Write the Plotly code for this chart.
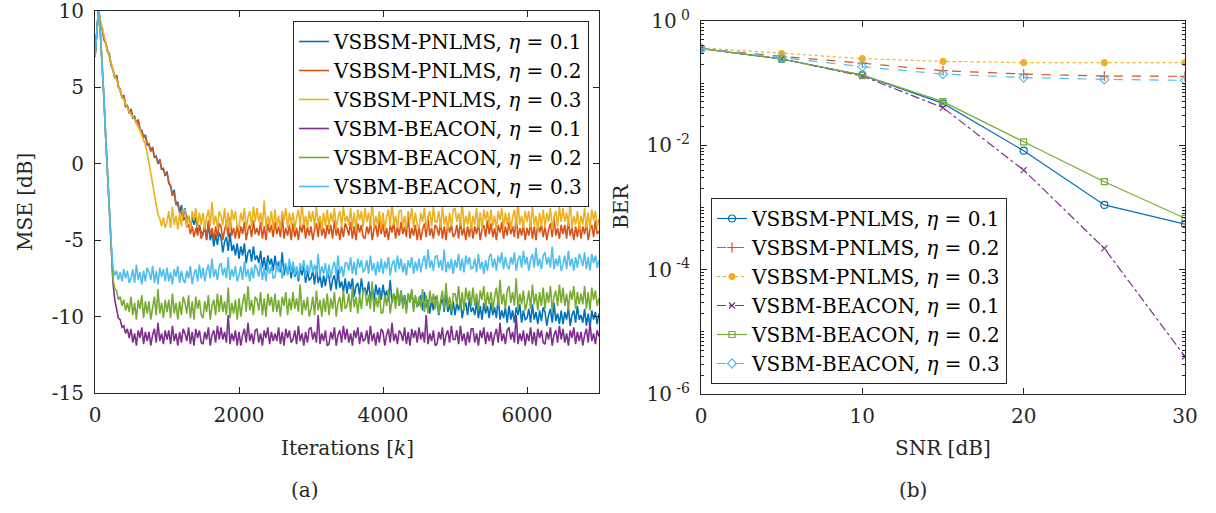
import plotly.graph_objects as go

# ---------------- data: (a) MSE [dB] vs iterations, sampled every 25 iterations (k = 0 ... 7000) ----------------
iter_step = 25

mse_vsbsm_pnlms_01 = [
    7.0, 8.6, 10.2, 9.2, 8.9, 8.1, 7.9, 7.3, 7.2, 6.4,
    6.2, 5.6, 5.8, 5.0, 4.9, 4.3, 4.5, 3.7, 3.8, 3.3,
    3.6, 3.0, 3.1, 2.6, 2.9, 2.2, 2.2, 1.7, 1.9, 1.2,
    1.3, 0.8, 1.1, 0.4, 0.5, 0.0, 0.3, -0.4, -0.3, -0.8,
    -0.5, -1.3, -1.4, -2.1, -1.7, -2.7, -2.5, -3.2, -2.7, -3.5,
    -2.9, -3.7, -3.4, -4.2, -3.5, -4.0, -3.5, -4.5, -4.0, -4.5,
    -4.6, -4.1, -5.0, -3.9, -5.0, -4.5, -5.4, -4.6, -5.3, -4.5,
    -4.8, -5.8, -5.1, -4.8, -5.7, -4.5, -5.7, -5.3, -6.0, -5.2,
    -6.2, -5.4, -6.0, -5.2, -6.5, -5.8, -5.6, -6.4, -5.4, -6.3,
    -6.0, -6.5, -5.7, -6.8, -6.1, -7.0, -6.0, -6.6, -6.2, -7.0,
    -6.0, -6.9, -6.4, -7.1, -5.8, -7.3, -6.6, -7.2, -6.5, -7.5,
    -6.5, -7.4, -6.9, -7.7, -6.8, -7.3, -6.6, -7.8, -7.0, -7.6,
    -7.5, -7.0, -7.9, -6.7, -7.8, -7.3, -8.1, -7.3, -8.0, -7.1,
    -7.4, -8.3, -7.6, -7.3, -8.2, -6.9, -8.1, -7.7, -8.4, -7.5,
    -8.5, -7.7, -8.2, -7.5, -8.7, -8.0, -7.8, -8.6, -7.5, -8.4,
    -8.1, -8.6, -7.7, -8.9, -8.1, -9.0, -7.9, -8.6, -8.1, -8.9,
    -7.9, -8.7, -8.3, -9.0, -7.6, -9.1, -8.5, -9.0, -8.3, -9.3,
    -8.3, -9.2, -8.6, -9.5, -8.5, -9.0, -8.3, -9.5, -8.7, -9.3,
    -9.2, -8.6, -9.6, -8.4, -9.4, -8.9, -9.8, -8.9, -9.6, -8.7,
    -8.9, -9.9, -9.2, -8.8, -9.7, -8.4, -9.7, -9.2, -9.9, -9.0,
    -9.9, -9.1, -9.6, -8.9, -10.1, -9.4, -9.1, -9.9, -8.8, -9.7,
    -9.4, -9.9, -9.0, -10.1, -9.3, -10.2, -9.1, -9.8, -9.3, -10.1,
    -9.1, -9.9, -9.4, -10.1, -8.7, -10.2, -9.6, -10.1, -9.4, -10.4,
    -9.3, -10.2, -9.6, -10.4, -9.4, -9.9, -9.2, -10.4, -9.6, -10.2,
    -10.1, -9.5, -10.4, -9.2, -10.2, -9.7, -10.5, -9.6, -10.3, -9.4,
    -9.7, -10.6, -9.9, -9.5, -10.4, -9.1, -10.3, -9.8, -10.5, -9.6,
    -10.5, -9.7, -10.2, -9.4, -10.6, -9.9, -9.6, -10.4, -9.3, -10.2,
    -9.9, -10.4, -9.5, -10.6, -9.8, -10.7, -9.6, -10.2, -9.7, -10.5,
    -9.8,
]

mse_vsbsm_pnlms_02 = [
    7.0, 8.5, 10.1, 9.3, 8.7, 8.2, 7.9, 7.4, 7.0, 6.6,
    6.1, 5.7, 5.7, 5.1, 4.8, 4.4, 4.4, 3.8, 3.7, 3.4,
    3.5, 3.1, 3.0, 2.7, 2.8, 2.3, 2.1, 1.8, 1.8, 1.3,
    1.2, 0.9, 1.0, 0.5, 0.4, 0.1, 0.2, -0.3, -0.4, -0.7,
    -0.6, -1.2, -1.5, -2.0, -1.9, -2.6, -2.7, -3.1, -3.2, -3.7,
    -3.5, -4.1, -4.0, -4.6, -4.1, -4.8, -4.2, -4.7, -4.0, -4.9,
    -4.6, -4.0, -4.9, -3.7, -4.7, -4.2, -5.0, -4.1, -4.8, -3.9,
    -4.1, -5.0, -4.3, -3.9, -4.8, -3.5, -4.7, -4.2, -4.9, -4.0,
    -4.9, -4.1, -4.6, -3.8, -5.0, -4.3, -4.0, -4.8, -3.7, -4.6,
    -4.2, -4.7, -3.8, -4.9, -4.1, -5.0, -3.9, -4.5, -4.0, -4.8,
    -3.8, -4.6, -4.1, -4.8, -3.4, -4.9, -4.2, -4.7, -4.0, -5.0,
    -3.9, -4.8, -4.2, -5.0, -4.0, -4.5, -3.8, -4.9, -4.1, -4.7,
    -4.1, -5.0, -4.3, -3.9, -4.8, -3.5, -4.7, -4.2, -4.9, -4.0,
    -4.6, -4.0, -4.9, -3.7, -4.7, -4.2, -5.0, -4.1, -4.8, -3.9,
    -4.2, -4.7, -3.8, -4.9, -4.1, -5.0, -3.9, -4.5, -4.0, -4.8,
    -4.9, -4.1, -4.6, -3.8, -5.0, -4.3, -4.0, -4.8, -3.7, -4.6,
    -3.9, -4.8, -4.2, -5.0, -4.0, -4.5, -3.8, -4.9, -4.1, -4.7,
    -3.8, -4.6, -4.1, -4.8, -3.4, -4.9, -4.2, -4.7, -4.0, -5.0,
    -4.1, -5.0, -4.3, -3.9, -4.8, -3.5, -4.7, -4.2, -4.9, -4.0,
    -4.2, -4.7, -3.8, -4.9, -4.1, -5.0, -3.9, -4.5, -4.0, -4.8,
    -4.6, -4.0, -4.9, -3.7, -4.7, -4.2, -5.0, -4.1, -4.8, -3.9,
    -4.9, -4.1, -4.6, -3.8, -5.0, -4.3, -4.0, -4.8, -3.7, -4.6,
    -3.9, -4.8, -4.2, -5.0, -4.0, -4.5, -3.8, -4.9, -4.1, -4.7,
    -3.8, -4.6, -4.1, -4.8, -3.4, -4.9, -4.2, -4.7, -4.0, -5.0,
    -4.2, -4.7, -3.8, -4.9, -4.1, -5.0, -3.9, -4.5, -4.0, -4.8,
    -4.1, -5.0, -4.3, -3.9, -4.8, -3.5, -4.7, -4.2, -4.9, -4.0,
    -4.6, -4.0, -4.9, -3.7, -4.7, -4.2, -5.0, -4.1, -4.8, -3.9,
    -4.9, -4.1, -4.6, -3.8, -5.0, -4.3, -4.0, -4.8, -3.7, -4.6,
    -4.4,
]

mse_vsbsm_pnlms_03 = [
    7.1, 8.7, 10.0, 9.4, 8.9, 8.2, 7.7, 7.4, 7.0, 6.5,
    6.1, 5.7, 5.5, 5.1, 4.8, 4.4, 4.2, 3.9, 3.7, 3.4,
    3.2, 3.1, 2.9, 2.6, 2.4, 2.2, 1.9, 1.6, 1.2, 0.7,
    0.1, -0.6, -1.3, -2.0, -2.8, -3.3, -3.6, -4.1, -3.5, -4.2,
    -3.8, -3.1, -4.2, -2.8, -4.0, -3.4, -4.3, -3.2, -4.1, -3.0,
    -3.0, -4.1, -3.4, -4.3, -3.1, -3.7, -2.9, -4.2, -3.2, -4.0,
    -3.2, -4.3, -3.5, -3.0, -4.1, -2.5, -4.0, -3.4, -4.2, -3.1,
    -3.4, -4.0, -2.9, -4.2, -3.2, -4.3, -3.0, -3.7, -3.1, -4.1,
    -4.2, -3.2, -3.8, -2.9, -4.3, -3.5, -3.1, -4.1, -2.8, -3.8,
    -2.9, -3.8, -3.2, -4.1, -2.4, -4.2, -3.4, -4.0, -3.1, -4.3,
    -3.0, -4.1, -3.4, -4.3, -3.1, -3.7, -2.9, -4.2, -3.2, -4.0,
    -3.2, -4.3, -3.5, -3.0, -4.1, -2.5, -4.0, -3.4, -4.2, -3.1,
    -3.8, -3.1, -4.2, -2.8, -4.0, -3.4, -4.3, -3.2, -4.1, -3.0,
    -4.2, -3.2, -3.8, -2.9, -4.3, -3.5, -3.1, -4.1, -2.8, -3.8,
    -3.4, -4.0, -2.9, -4.2, -3.2, -4.3, -3.0, -3.7, -3.1, -4.1,
    -2.9, -3.8, -3.2, -4.1, -2.4, -4.2, -3.4, -4.0, -3.1, -4.3,
    -3.2, -4.3, -3.5, -3.0, -4.1, -2.5, -4.0, -3.4, -4.2, -3.1,
    -3.0, -4.1, -3.4, -4.3, -3.1, -3.7, -2.9, -4.2, -3.2, -4.0,
    -4.2, -3.2, -3.8, -2.9, -4.3, -3.5, -3.1, -4.1, -2.8, -3.8,
    -3.8, -3.1, -4.2, -2.8, -4.0, -3.4, -4.3, -3.2, -4.1, -3.0,
    -2.9, -3.8, -3.2, -4.1, -2.4, -4.2, -3.4, -4.0, -3.1, -4.3,
    -3.4, -4.0, -2.9, -4.2, -3.2, -4.3, -3.0, -3.7, -3.1, -4.1,
    -3.0, -4.1, -3.4, -4.3, -3.1, -3.7, -2.9, -4.2, -3.2, -4.0,
    -3.2, -4.3, -3.5, -3.0, -4.1, -2.5, -4.0, -3.4, -4.2, -3.1,
    -3.8, -3.1, -4.2, -2.8, -4.0, -3.4, -4.3, -3.2, -4.1, -3.0,
    -4.2, -3.2, -3.8, -2.9, -4.3, -3.5, -3.1, -4.1, -2.8, -3.8,
    -2.9, -3.8, -3.2, -4.1, -2.4, -4.2, -3.4, -4.0, -3.1, -4.3,
    -3.4, -4.0, -2.9, -4.2, -3.2, -4.3, -3.0, -3.7, -3.1, -4.1,
    -3.6,
]

mse_vsbm_beacon_01 = [
    7.0, 8.6, 10.2, 8.5, 6.5, 4.2, 1.6, -0.8, -3.2, -5.5,
    -7.8, -8.9, -9.4, -10.1, -10.2, -10.7, -10.6, -11.1, -10.8, -11.4,
    -10.8, -11.7, -11.1, -11.9, -10.9, -11.4, -10.7, -11.8, -11.0, -11.6,
    -11.0, -11.9, -11.2, -10.8, -11.7, -10.4, -11.6, -11.1, -11.8, -10.9,
    -11.5, -10.9, -11.8, -10.6, -11.6, -11.1, -11.9, -11.0, -11.7, -10.8,
    -11.1, -11.6, -10.7, -11.8, -11.0, -11.9, -10.8, -11.4, -10.9, -11.7,
    -11.8, -11.0, -11.5, -10.7, -11.9, -11.2, -10.9, -11.7, -10.6, -11.5,
    -10.7, -11.5, -11.0, -11.7, -9.9, -11.8, -11.1, -11.6, -10.9, -11.9,
    -11.0, -11.9, -11.2, -10.8, -11.7, -10.4, -11.6, -11.1, -11.8, -10.9,
    -10.8, -11.7, -11.1, -11.9, -10.9, -11.4, -10.7, -11.8, -11.0, -11.6,
    -11.1, -11.6, -10.7, -11.8, -11.0, -11.9, -10.8, -11.4, -10.9, -11.7,
    -11.5, -10.9, -11.8, -10.6, -11.6, -11.1, -11.9, -11.0, -11.7, -10.8,
    -10.7, -11.5, -11.0, -11.7, -9.9, -11.8, -11.1, -11.6, -10.9, -11.9,
    -11.8, -11.0, -11.5, -10.7, -11.9, -11.2, -10.9, -11.7, -10.6, -11.5,
    -10.8, -11.7, -11.1, -11.9, -10.9, -11.4, -10.7, -11.8, -11.0, -11.6,
    -11.5, -10.9, -11.8, -10.6, -11.6, -11.1, -11.9, -11.0, -11.7, -10.8,
    -11.0, -11.9, -11.2, -10.8, -11.7, -10.4, -11.6, -11.1, -11.8, -10.9,
    -11.1, -11.6, -10.7, -11.8, -11.0, -11.9, -10.8, -11.4, -10.9, -11.7,
    -10.7, -11.5, -11.0, -11.7, -9.9, -11.8, -11.1, -11.6, -10.9, -11.9,
    -11.8, -11.0, -11.5, -10.7, -11.9, -11.2, -10.9, -11.7, -10.6, -11.5,
    -11.5, -10.9, -11.8, -10.6, -11.6, -11.1, -11.9, -11.0, -11.7, -10.8,
    -10.8, -11.7, -11.1, -11.9, -10.9, -11.4, -10.7, -11.8, -11.0, -11.6,
    -11.0, -11.9, -11.2, -10.8, -11.7, -10.4, -11.6, -11.1, -11.8, -10.9,
    -10.7, -11.5, -11.0, -11.7, -9.9, -11.8, -11.1, -11.6, -10.9, -11.9,
    -11.1, -11.6, -10.7, -11.8, -11.0, -11.9, -10.8, -11.4, -10.9, -11.7,
    -11.8, -11.0, -11.5, -10.7, -11.9, -11.2, -10.9, -11.7, -10.6, -11.5,
    -10.8, -11.7, -11.1, -11.9, -10.9, -11.4, -10.7, -11.8, -11.0, -11.6,
    -11.0, -11.9, -11.2, -10.8, -11.7, -10.4, -11.6, -11.1, -11.8, -10.9,
    -11.3,
]

mse_vsbm_beacon_02 = [
    7.0, 8.6, 10.2, 8.5, 6.5, 4.2, 1.6, -0.8, -3.2, -5.5,
    -7.6, -8.2, -8.3, -8.9, -8.7, -9.3, -8.9, -9.6, -9.1, -9.7,
    -8.7, -9.9, -9.1, -10.2, -8.9, -9.5, -8.6, -10.1, -9.0, -9.8,
    -9.0, -10.2, -9.3, -8.7, -9.9, -8.2, -9.8, -9.1, -10.1, -8.9,
    -9.7, -8.9, -10.1, -8.5, -9.8, -9.1, -10.2, -9.0, -9.9, -8.7,
    -9.1, -9.8, -8.6, -10.1, -9.0, -10.2, -8.7, -9.5, -8.9, -9.9,
    -10.1, -9.0, -9.7, -8.6, -10.2, -9.3, -8.9, -9.9, -8.5, -9.7,
    -8.6, -9.7, -9.0, -9.9, -8.1, -10.1, -9.1, -9.8, -8.9, -10.2,
    -8.8, -10.0, -9.1, -8.5, -9.7, -8.0, -9.6, -8.9, -9.9, -8.7,
    -8.9, -9.6, -8.4, -9.9, -8.8, -10.0, -8.5, -9.3, -8.7, -9.7,
    -8.5, -9.7, -8.9, -10.0, -8.7, -9.3, -8.4, -9.9, -8.8, -9.6,
    -8.4, -9.5, -8.8, -9.7, -7.9, -9.9, -8.9, -9.6, -8.7, -10.0,
    -9.5, -8.7, -9.9, -8.3, -9.6, -8.9, -10.0, -8.8, -9.7, -8.5,
    -9.9, -8.8, -9.5, -8.4, -10.0, -9.1, -8.7, -9.7, -8.3, -9.5,
    -9.3, -8.5, -9.7, -8.1, -9.4, -8.7, -9.8, -8.6, -9.5, -8.3,
    -8.2, -9.3, -8.6, -9.5, -7.7, -9.7, -8.7, -9.4, -8.5, -9.8,
    -9.7, -8.6, -9.3, -8.2, -9.8, -8.9, -8.5, -9.5, -8.1, -9.3,
    -8.3, -9.5, -8.7, -9.8, -8.5, -9.1, -8.2, -9.7, -8.6, -9.4,
    -8.7, -9.4, -8.2, -9.7, -8.6, -9.8, -8.3, -9.1, -8.5, -9.5,
    -8.6, -9.8, -8.9, -8.3, -9.5, -7.8, -9.4, -8.7, -9.7, -8.5,
    -8.5, -9.2, -8.0, -9.5, -8.4, -9.6, -8.1, -8.9, -8.3, -9.3,
    -8.1, -9.3, -8.5, -9.6, -8.3, -8.9, -8.0, -9.5, -8.4, -9.2,
    -8.4, -9.6, -8.7, -8.1, -9.3, -7.6, -9.2, -8.5, -9.5, -8.3,
    -8.0, -9.1, -8.4, -9.3, -7.5, -9.5, -8.5, -9.2, -8.3, -9.6,
    -9.1, -8.3, -9.5, -7.9, -9.2, -8.5, -9.6, -8.4, -9.3, -8.1,
    -9.5, -8.4, -9.1, -8.0, -9.6, -8.7, -8.3, -9.3, -7.9, -9.1,
    -8.1, -9.3, -8.5, -9.6, -8.3, -8.9, -8.0, -9.5, -8.4, -9.2,
    -8.5, -9.2, -8.0, -9.5, -8.4, -9.6, -8.1, -8.9, -8.3, -9.3,
    -8.8,
]

mse_vsbm_beacon_03 = [
    7.0, 8.6, 10.2, 8.5, 6.5, 4.2, 1.6, -0.8, -3.2, -5.2,
    -6.8, -7.3, -7.0, -7.6, -7.1, -7.7, -6.9, -7.5, -7.0, -7.8,
    -7.5, -6.9, -7.8, -6.6, -7.6, -7.1, -7.9, -7.0, -7.7, -6.8,
    -7.1, -7.6, -6.7, -7.8, -7.0, -7.9, -6.8, -7.4, -6.9, -7.7,
    -6.8, -7.7, -7.1, -7.9, -6.9, -7.4, -6.7, -7.8, -7.0, -7.6,
    -7.8, -7.0, -7.5, -6.7, -7.9, -7.2, -6.9, -7.7, -6.6, -7.5,
    -6.8, -7.7, -7.0, -6.6, -7.5, -6.2, -7.4, -6.9, -7.6, -6.7,
    -6.5, -7.3, -6.8, -7.5, -6.1, -7.6, -6.9, -7.4, -6.7, -7.7,
    -7.3, -6.7, -7.6, -6.4, -7.4, -6.9, -7.7, -6.8, -7.5, -6.6,
    -6.9, -7.4, -6.5, -7.6, -6.8, -7.7, -6.6, -7.2, -6.7, -7.5,
    -7.4, -6.6, -7.1, -6.3, -7.5, -6.8, -6.5, -7.3, -6.2, -7.1,
    -6.4, -7.3, -6.7, -7.5, -6.5, -7.0, -6.3, -7.4, -6.6, -7.2,
    -6.3, -7.1, -6.6, -7.3, -5.9, -7.4, -6.7, -7.2, -6.5, -7.5,
    -6.6, -7.5, -6.8, -6.4, -7.3, -6.0, -7.2, -6.7, -7.4, -6.5,
    -6.5, -7.0, -6.1, -7.2, -6.4, -7.3, -6.2, -6.8, -6.3, -7.1,
    -6.9, -6.3, -7.2, -6.0, -7.0, -6.5, -7.3, -6.4, -7.1, -6.2,
    -7.2, -6.4, -6.9, -6.1, -7.3, -6.6, -6.3, -7.1, -6.0, -6.9,
    -6.2, -7.1, -6.5, -7.3, -6.3, -6.8, -6.1, -7.2, -6.4, -7.0,
    -6.2, -7.1, -6.4, -6.0, -6.9, -5.6, -6.8, -6.3, -7.0, -6.1,
    -6.0, -6.8, -6.3, -7.0, -5.6, -7.1, -6.4, -6.9, -6.2, -7.2,
    -6.3, -6.8, -5.9, -7.0, -6.2, -7.1, -6.0, -6.6, -6.1, -6.9,
    -6.8, -6.2, -7.1, -5.9, -6.9, -6.4, -7.2, -6.3, -7.0, -6.1,
    -5.9, -6.8, -6.2, -7.0, -6.0, -6.5, -5.8, -6.9, -6.1, -6.7,
    -6.9, -6.1, -6.6, -5.8, -7.0, -6.3, -6.0, -6.8, -5.7, -6.6,
    -6.1, -7.0, -6.3, -5.9, -6.8, -5.5, -6.7, -6.2, -6.9, -6.0,
    -5.8, -6.6, -6.1, -6.8, -5.4, -6.9, -6.2, -6.7, -6.0, -7.0,
    -6.6, -6.0, -6.9, -5.7, -6.7, -6.2, -7.0, -6.1, -6.8, -5.9,
    -6.2, -6.7, -5.8, -6.9, -6.1, -7.0, -5.9, -6.5, -6.0, -6.8,
    -6.3,
]

mse_series = [mse_vsbsm_pnlms_01, mse_vsbsm_pnlms_02, mse_vsbsm_pnlms_03,
              mse_vsbm_beacon_01, mse_vsbm_beacon_02, mse_vsbm_beacon_03]

# ---------------- data: (b) BER vs SNR ----------------
snr_db = [0, 5, 10, 15, 20, 25, 30]
ber_vsbsm_pnlms_01 = [0.36, 0.245, 0.135, 0.0473, 0.0082, 0.0011, 0.00054]
ber_vsbsm_pnlms_02 = [0.36, 0.27, 0.21, 0.159, 0.140, 0.130, 0.129]
ber_vsbsm_pnlms_03 = [0.37, 0.30, 0.248, 0.224, 0.214, 0.214, 0.214]
ber_vsbm_beacon_01 = [0.36, 0.245, 0.13, 0.0404, 0.0040, 0.00022, 0.000004]
ber_vsbm_beacon_02 = [0.36, 0.245, 0.135, 0.0504, 0.0114, 0.0026, 0.00067]
ber_vsbm_beacon_03 = [0.36, 0.26, 0.184, 0.14, 0.123, 0.115, 0.111]

ber_series = [ber_vsbsm_pnlms_01, ber_vsbsm_pnlms_02, ber_vsbsm_pnlms_03,
              ber_vsbm_beacon_01, ber_vsbm_beacon_02, ber_vsbm_beacon_03]

series_names = [
    "VSBSM-PNLMS, <i>η</i> = 0.1",
    "VSBSM-PNLMS, <i>η</i> = 0.2",
    "VSBSM-PNLMS, <i>η</i> = 0.3",
    "VSBM-BEACON, <i>η</i> = 0.1",
    "VSBM-BEACON, <i>η</i> = 0.2",
    "VSBM-BEACON, <i>η</i> = 0.3",
]

mse_ticks = [-15, -10, -5, 0, 5, 10]
mse_tick_text = ["-15", "-10", "-5", "0", "5", "10"]
iter_ticks = [0, 2000, 4000, 6000]
snr_ticks = [0, 10, 20, 30]
ber_ticks = [1, 1e-2, 1e-4, 1e-6]
ber_tick_text = ["10<sup> 0</sup>", "10<sup> -2</sup>", "10<sup> -4</sup>", "10<sup> -6</sup>"]

# ---------------- styles ----------------
colors = ["#0072BD", "#D95319", "#EDB120", "#7E2F8E", "#77AC30", "#4DBEEE"]
dashes = ["solid", "dash", "dot", "dashdot", "solid", "dash"]
symbols = ["circle-open", "cross-thin-open", "circle", "x-thin-open", "square-open", "diamond-open"]
msizes = [7, 7, 6, 6, 6, 7]

FONT = "DejaVu Serif"
FS = 20
AX = "#262626"
W, H = 1216, 513

fig = go.Figure()

for vals, name, col in zip(mse_series, series_names, colors):
    ks = [i * iter_step for i in range(len(vals))]
    fig.add_trace(go.Scatter(
        x=ks, y=vals, mode="lines", name=name,
        line=dict(color=col, width=1.6),
        xaxis="x", yaxis="y", legend="legend",
    ))

for vals, name, col, dsh, sym, ms in zip(ber_series, series_names, colors, dashes, symbols, msizes):
    fig.add_trace(go.Scatter(
        x=snr_db, y=vals, mode="lines+markers", name=name,
        line=dict(color=col, width=1.2, dash=dsh),
        marker=dict(symbol=sym, size=ms, color=col, line=dict(color=col, width=1.2)),
        xaxis="x2", yaxis="y2", legend="legend2",
    ))

minor_vals = [d * 10 ** e for e in range(-6, 0) for d in range(2, 10)] + [1e-1, 1e-3, 1e-5]

axis_common = dict(
    showline=True, linecolor=AX, linewidth=1, mirror="ticks",
    ticks="inside", ticklen=6, tickcolor=AX, tickwidth=1,
    showgrid=False, zeroline=False, automargin=False,
    ticklabeloverflow="allow",
    tickfont=dict(family=FONT, size=FS, color=AX),
)


def px_x(p):
    return p / W


def px_y(p):
    return 1 - p / H


fig.update_layout(
    width=W, height=H,
    margin=dict(l=0, r=0, t=0, b=0, pad=0),
    paper_bgcolor="white", plot_bgcolor="white",
    font=dict(family=FONT, size=FS, color="black"),
    xaxis=dict(domain=[px_x(95), px_x(599)], anchor="y", range=[0, 7000],
               tickvals=iter_ticks, ticklabelstandoff=4, **axis_common),
    yaxis=dict(domain=[px_y(393), px_y(11)], anchor="x", range=[-15, 10],
               tickvals=mse_ticks, ticktext=mse_tick_text, ticklabelstandoff=6,
               **axis_common),
    xaxis2=dict(domain=[px_x(701), px_x(1185)], anchor="y2", range=[0, 30],
                tickvals=snr_ticks, ticklabelstandoff=4, **axis_common),
    yaxis2=dict(domain=[px_y(394), px_y(21)], anchor="x2", type="log", range=[-6, 0],
                tickvals=ber_ticks, ticktext=ber_tick_text, ticklabelstandoff=6,
                minor=dict(ticks="inside", ticklen=3, tickcolor=AX, tickvals=minor_vals),
                **axis_common),
    legend=dict(x=px_x(589), y=px_y(21), xanchor="right", yanchor="top",
                bgcolor="white", bordercolor=AX, borderwidth=1,
                font=dict(family=FONT, size=FS, color="black"),
                tracegroupgap=0),
    legend2=dict(x=px_x(711), y=px_y(384), xanchor="left", yanchor="bottom",
                 bgcolor="white", bordercolor=AX, borderwidth=1,
                 font=dict(family=FONT, size=FS, color="black"),
                 tracegroupgap=0),
    annotations=[
        dict(text="MSE [dB]", x=px_x(25), y=px_y(202), textangle=-90),
        dict(text="Iterations [<i>k</i>]", x=px_x(347), y=px_y(448)),
        dict(text="BER", x=px_x(621), y=px_y(207), textangle=-90),
        dict(text="SNR [dB]", x=px_x(943), y=px_y(448)),
        dict(text="(a)", x=px_x(305), y=px_y(490)),
        dict(text="(b)", x=px_x(913), y=px_y(490)),
    ],
    showlegend=True,
)
fig.update_annotations(xref="paper", yref="paper", showarrow=False,
                       xanchor="center", yanchor="middle",
                       font=dict(family=FONT, size=FS, color=AX))

fig.write_html("out.html", post_script="document.body.style.margin='0';")
